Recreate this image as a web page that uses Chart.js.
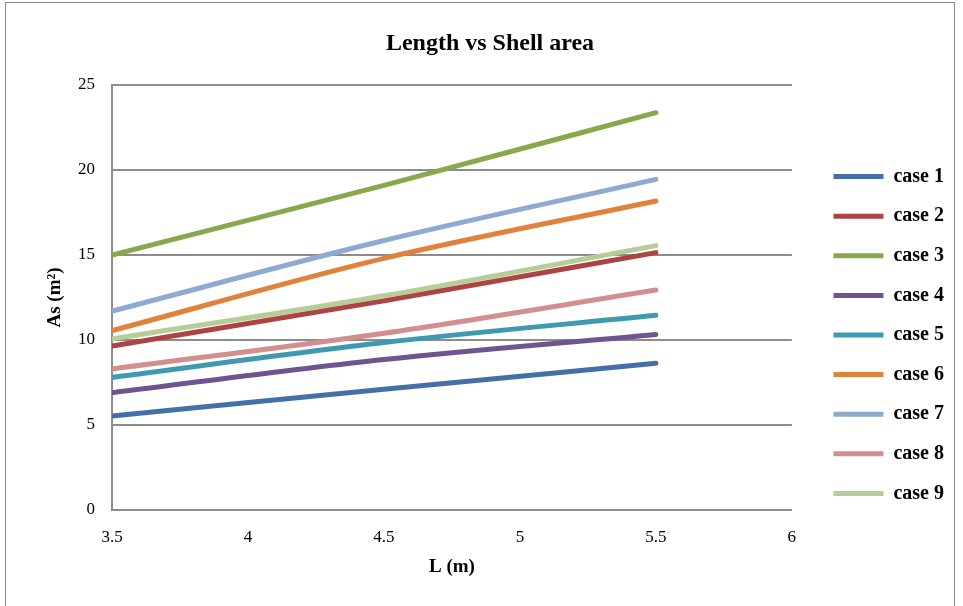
<!DOCTYPE html>
<html>
<head>
<meta charset="utf-8">
<script src="https://cdn.jsdelivr.net/npm/chart.js@4"></script>
<style>
  html, body { margin: 0; padding: 0; background: #fff; }
  #wrap { position: relative; width: 963px; height: 606px; overflow: hidden; }
  #frame { position: absolute; left: 5px; top: 2px; width: 950px; height: 620px; border: 1px solid #8c8c8c; box-sizing: border-box; }
  canvas { position: absolute; left: 0; top: 0; }
</style>
</head>
<body>
<div id="wrap">
  <div id="frame"></div>
  <canvas id="chart" width="963" height="606"></canvas>
</div>
<script>
const lengths = [3.5, 4.5, 5.5];
const caseNames = ["case 1", "case 2", "case 3", "case 4", "case 5", "case 6", "case 7", "case 8", "case 9"];
const case1 = [5.53, 7.1, 8.63];
const case2 = [9.65, 12.3, 15.14];
const case3 = [15.0, 19.1, 23.37];
const case4 = [6.9, 8.85, 10.33];
const case5 = [7.8, 9.85, 11.45];
const case6 = [10.55, 14.8, 18.18];
const case7 = [11.7, 15.85, 19.45];
const case8 = [8.3, 10.4, 12.94];
const case9 = [10.06, 12.6, 15.55];
const yTicks = [0, 5, 10, 15, 20, 25];
const xTicks = [3.5, 4, 4.5, 5, 5.5, 6];

const allCases = [case1, case2, case3, case4, case5, case6, case7, case8, case9];
const colors = ["#4470a9", "#ab4442", "#88a84b", "#6e5592", "#3f99b1", "#e0823b", "#8faacf", "#d38f8e", "#b7cd97"];

const serif = "'Liberation Serif', 'Times New Roman', serif";

// nudge legend and title, like the excel layout
const layoutShift = {
  id: "layoutShift",
  afterLayout(chart) {
    const lg = chart.legend;
    lg.left += 22; lg.right += 22;
    lg.top += 32; lg.bottom += 32;
    const t = chart.titleBlock;
    t.left += 24; t.right += 24;
  }
};

new Chart(document.getElementById("chart"), {
  type: "line",
  data: {
    datasets: allCases.map((vals, i) => ({
      label: caseNames[i],
      data: lengths.map((x, j) => ({x: x, y: vals[j]})),
      borderColor: colors[i],
      backgroundColor: colors[i],
      borderWidth: 5,
      borderCapStyle: "round",
      pointRadius: 0,
      pointStyle: "line",
      cubicInterpolationMode: "monotone",
      fill: false
    }))
  },
  options: {
    responsive: false,
    animation: false,
    layout: { padding: { left: 0, right: 31, top: 0, bottom: 0 } },
    plugins: {
      tooltip: { enabled: false },
      title: {
        display: true,
        text: "Length vs Shell area",
        color: "#000",
        font: { family: serif, size: 24, weight: "bold" },
        padding: { top: 29.4, bottom: 26.8 }
      },
      legend: {
        position: "right",
        labels: {
          usePointStyle: true,
          pointStyleWidth: 50,
          color: "#000",
          font: { family: serif, size: 20, weight: "bold" },
          padding: 19.6
        }
      }
    },
    scales: {
      x: {
        type: "linear",
        min: 3.5,
        max: 6,
        afterBuildTicks: s => { s.ticks = xTicks.map(v => ({value: v})); },
        afterFit: s => { s.height = 96; },
        grid: { display: false, drawTicks: false },
        border: { display: true, color: "#8c8c8c", width: 2 },
        ticks: { color: "#000", padding: 17, font: { family: serif, size: 17 }, callback: v => String(v) },
        title: {
          display: true,
          text: "L (m)",
          color: "#000",
          font: { family: serif, size: 19, weight: "bold" },
          padding: { top: 4, bottom: 28 }
        }
      },
      y: {
        min: 0,
        max: 25,
        afterBuildTicks: s => { s.ticks = yTicks.map(v => ({value: v})); },
        afterFit: s => { s.width = 112; },
        grid: { color: "#8c8c8c", lineWidth: 2, drawTicks: false },
        border: { display: true, color: "#8c8c8c", width: 2 },
        ticks: { color: "#000", padding: 17, font: { family: serif, size: 17 }, callback: v => String(v) },
        title: {
          display: true,
          text: "As (m²)",
          color: "#000",
          font: { family: serif, size: 19, weight: "bold" },
          padding: { top: 44, bottom: 0 }
        }
      }
    }
  },
  plugins: [layoutShift]
});
</script>
</body>
</html>
